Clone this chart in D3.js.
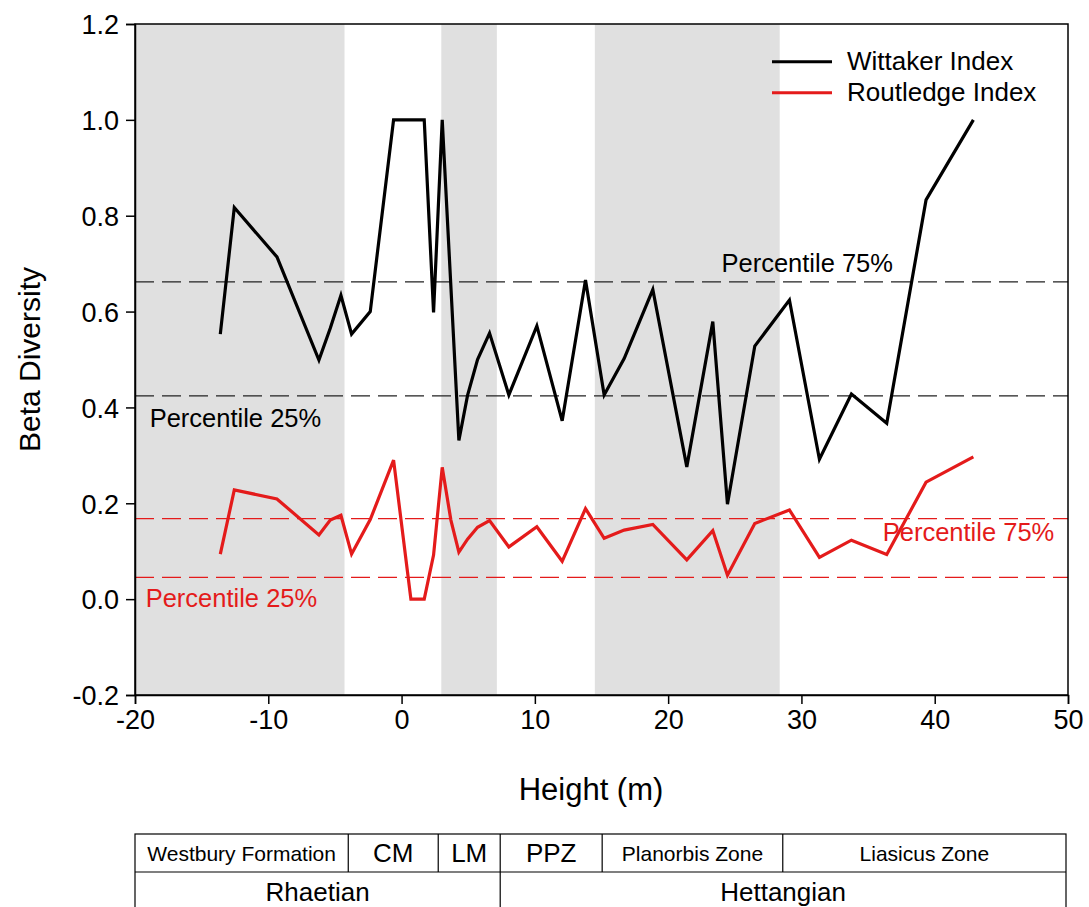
<!DOCTYPE html>
<html><head><meta charset="utf-8">
<script src="https://cdn.jsdelivr.net/npm/d3@7"></script>
<style>
html,body{margin:0;padding:0;background:#fff;}
text{font-family:"Liberation Sans",Arial,sans-serif;}
</style></head>
<body>
<svg id="c" width="1089" height="907"></svg>
<script>
// ---- data ----
const heightsW = [-13.6,-12.55,-9.35,-6.2,-5.35,-4.55,-3.75,-2.35,-0.6,1.7,2.4,3.05,4.3,4.95,5.7,6.6,8.05,10.15,12.05,13.8,15.2,16.7,18.85,21.4,23.35,24.45,26.5,29.1,31.35,33.75,36.4,39.35,42.9];
const wittaker = [0.553,0.817,0.714,0.499,0.565,0.634,0.553,0.600,1.0,1.0,0.598,1.0,0.331,0.425,0.500,0.555,0.426,0.570,0.372,0.666,0.426,0.502,0.646,0.276,0.579,0.198,0.528,0.624,0.292,0.428,0.367,0.833,1.0];
const heightsR = [-13.6,-12.55,-9.35,-6.2,-5.35,-4.55,-3.75,-2.35,-0.6,0.7,1.7,2.4,3.05,3.7,4.3,4.95,5.7,6.6,8.05,10.15,12.05,13.8,15.2,16.7,18.85,21.4,23.35,24.45,26.5,29.1,31.35,33.75,36.4,39.35,42.9];
const routledge = [0.094,0.228,0.209,0.134,0.165,0.175,0.094,0.166,0.290,0.0,0.0,0.092,0.275,0.165,0.098,0.125,0.150,0.164,0.109,0.151,0.079,0.189,0.127,0.144,0.156,0.082,0.143,0.050,0.158,0.186,0.087,0.123,0.093,0.244,0.297];
const percW = [0.662, 0.424];
const percR = [0.168, 0.0455];
const shadeStart = [-20, 2.98, 14.5];
const shadeEnd = [-4.28, 7.15, 28.37];
const xTicks = [-20,-10,0,10,20,30,40,50];
const yTicks = [-0.2,0,0.2,0.4,0.6,0.8,1.0,1.2];
const zoneNames = ["Westbury Formation","CM","LM","PPZ","Planorbis Zone","Liasicus Zone"];
const zoneBounds = [-20,-4.0,2.75,7.4,15.05,28.6,49.85];
const zoneSizes = [21,26,26,26,21,21];
const stageNames = ["Rhaetian","Hettangian"];
const stageBounds = [-20,7.4,49.85];

// ---- layout ----
const L=135,R=1068,T=24,B=695;
const RED="#e41b1b";
const svg=d3.select("#c");
const x=d3.scaleLinear().domain([-20,50]).range([L,R]);
const y=d3.scaleLinear().domain([-0.2,1.2]).range([B,T]);

// shading
svg.append("g").selectAll("rect").data(shadeStart).join("rect")
  .attr("x",(d,i)=>x(d)).attr("width",(d,i)=>x(shadeEnd[i])-x(d))
  .attr("y",T).attr("height",B-T).attr("fill","#e0e0e0");

// percentile lines
const pl=svg.append("g");
pl.selectAll("line.w").data(percW).join("line").attr("class","w")
  .attr("x1",L).attr("x2",R).attr("y1",d=>y(d)).attr("y2",d=>y(d))
  .attr("stroke","#222").attr("stroke-width",1.3).attr("stroke-dasharray","19,8");
pl.selectAll("line.r").data(percR).join("line").attr("class","r")
  .attr("x1",L).attr("x2",R).attr("y1",d=>y(d)).attr("y2",d=>y(d))
  .attr("stroke",RED).attr("stroke-width",1.3).attr("stroke-dasharray","19,8");

// lines
const line=d3.line().x(d=>x(d[0])).y(d=>y(d[1]));
svg.append("path").datum(heightsW.map((h,i)=>[h,wittaker[i]]))
  .attr("d",line).attr("fill","none").attr("stroke","#000").attr("stroke-width",3.2).attr("stroke-linejoin","miter");
svg.append("path").datum(heightsR.map((h,i)=>[h,routledge[i]]))
  .attr("d",line).attr("fill","none").attr("stroke",RED).attr("stroke-width",3.2).attr("stroke-linejoin","miter");

// percentile labels
const lab=[
 {t:"Percentile 75%",x:24.0,y:0.683,c:"#000"},
 {t:"Percentile 25%",x:-18.9,y:0.36,c:"#000"},
 {t:"Percentile 25%",x:-19.2,y:-0.016,c:RED},
 {t:"Percentile 75%",x:36.1,y:0.121,c:RED}
];
svg.append("g").selectAll("text").data(lab).join("text")
  .attr("x",d=>x(d.x)).attr("y",d=>y(d.y)).attr("fill",d=>d.c)
  .attr("font-size",25.5).text(d=>d.t);

// frame
svg.append("rect").attr("x",L).attr("y",T).attr("width",R-L).attr("height",B-T)
  .attr("fill","none").attr("stroke","#000").attr("stroke-width",1.5);

// axes
const xa=svg.append("g").attr("transform",`translate(0,${B})`)
  .call(d3.axisBottom(x).tickValues(xTicks).tickSize(9).tickPadding(6).tickFormat(d=>String(d)));
const ya=svg.append("g").attr("transform",`translate(${L},0)`)
  .call(d3.axisLeft(y).tickValues(yTicks).tickSize(9).tickPadding(7).tickFormat(d=>d.toFixed(1)));
[xa,ya].forEach(a=>{
  a.select(".domain").attr("stroke","#000").attr("stroke-width",1.5);
  a.selectAll(".tick line").attr("stroke","#000").attr("stroke-width",1.5);
  a.selectAll(".tick text").attr("font-size",27).attr("fill","#000")
    .attr("font-family",'"Liberation Sans",Arial,sans-serif');
});
ya.selectAll(".tick text").attr("dy","0.36em");

// axis titles
svg.append("text").attr("x",591).attr("y",800).attr("text-anchor","middle")
  .attr("font-size",31).text("Height (m)");
svg.append("text").attr("transform",`translate(40,${(T+B)/2}) rotate(-90)`)
  .attr("text-anchor","middle").attr("font-size",30).text("Beta Diversity");

// legend
const leg=[{t:"Wittaker Index",c:"#000",y:61.7},{t:"Routledge Index",c:RED,y:92.7}];
const lg=svg.append("g");
lg.selectAll("line").data(leg).join("line")
  .attr("x1",772).attr("x2",832).attr("y1",d=>d.y).attr("y2",d=>d.y)
  .attr("stroke",d=>d.c).attr("stroke-width",3);
lg.selectAll("text").data(leg).join("text")
  .attr("x",847).attr("y",d=>d.y+8.5).attr("font-size",26).text(d=>d.t);

// stratigraphic table
const tT=834,tM=872,tB=912;
const tg=svg.append("g");
tg.append("rect").attr("x",x(zoneBounds[0])).attr("y",tT)
  .attr("width",x(zoneBounds[zoneBounds.length-1])-x(zoneBounds[0])).attr("height",tB-tT)
  .attr("fill","none").attr("stroke","#000").attr("stroke-width",1.2);
tg.append("line").attr("x1",x(zoneBounds[0])).attr("x2",x(zoneBounds[zoneBounds.length-1]))
  .attr("y1",tM).attr("y2",tM).attr("stroke","#000").attr("stroke-width",1.2);
tg.selectAll("line.z").data(zoneBounds.slice(1,-1)).join("line").attr("class","z")
  .attr("x1",d=>x(d)).attr("x2",d=>x(d)).attr("y1",tT).attr("y2",tM)
  .attr("stroke","#000").attr("stroke-width",1.2);
tg.selectAll("line.s").data(stageBounds.slice(1,-1)).join("line").attr("class","s")
  .attr("x1",d=>x(d)).attr("x2",d=>x(d)).attr("y1",tM).attr("y2",tB)
  .attr("stroke","#000").attr("stroke-width",1.2);
tg.selectAll("text.z").data(zoneNames).join("text").attr("class","z")
  .attr("x",(d,i)=>(x(zoneBounds[i])+x(zoneBounds[i+1]))/2).attr("y",(tT+tM)/2)
  .attr("dy","0.36em").attr("text-anchor","middle").attr("font-size",(d,i)=>zoneSizes[i]).text(d=>d);
tg.selectAll("text.s").data(stageNames).join("text").attr("class","s")
  .attr("x",(d,i)=>(x(stageBounds[i])+x(stageBounds[i+1]))/2).attr("y",tM+20)
  .attr("dy","0.36em").attr("text-anchor","middle").attr("font-size",26).text(d=>d);
</script>
</body></html>
